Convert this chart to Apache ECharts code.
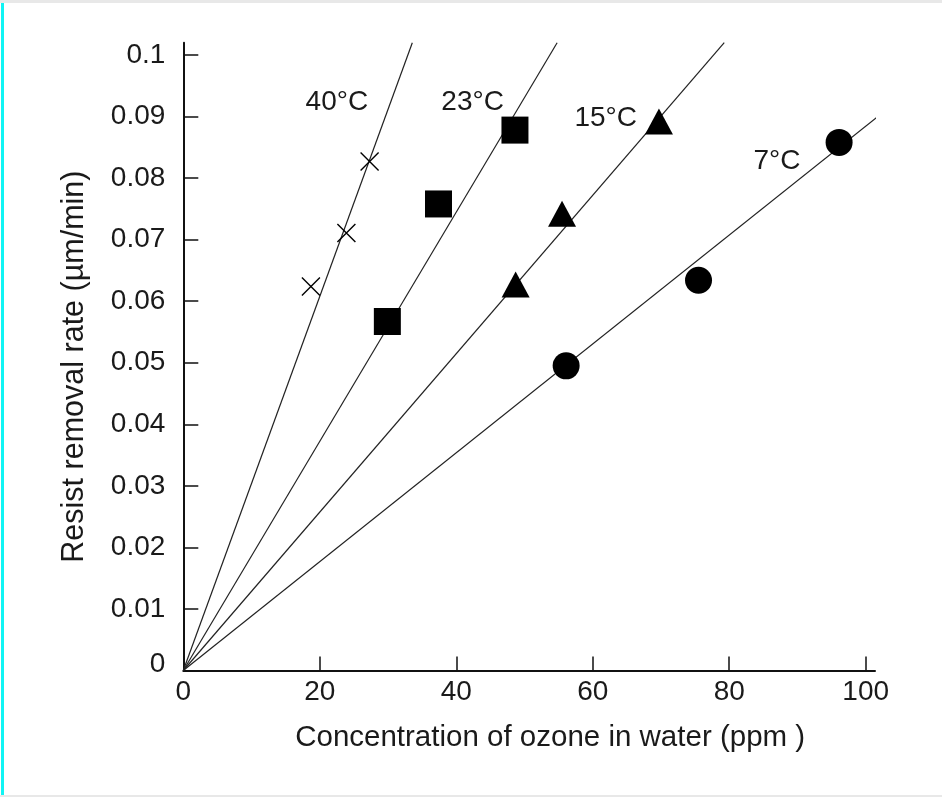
<!DOCTYPE html>
<html>
<head>
<meta charset="utf-8">
<script src="https://cdn.jsdelivr.net/npm/echarts@6/dist/echarts.min.js"></script>
<style>
html,body{margin:0;padding:0;background:#fff;}
#chart{width:942px;height:797px;}
</style>
</head>
<body>
<div id="chart"></div>
<script>
// ---- data ----
const xTicks = [0, 20, 40, 60, 80, 100];
const yTicks = [0, 0.01, 0.02, 0.03, 0.04, 0.05, 0.06, 0.07, 0.08, 0.09, 0.1];
const xMax = 101.36;
const yMax = 0.102;

const tempNames = ['40°C', '23°C', '15°C', '7°C'];

// measured points (ppm, µm/min)
const pts40 = [[18.7, 0.0624], [23.9, 0.0711], [27.3, 0.0827]];
const pts23 = [[29.9, 0.0567], [37.4, 0.0758], [48.6, 0.0878]];
const pts15 = [[48.7, 0.0627], [55.5, 0.0742], [69.7, 0.0892]];
const pts7  = [[56.1, 0.0495], [75.5, 0.0634], [96.1, 0.0858]];

// fitted lines through origin (end points read at top / right of plot)
const fit40 = [[0, 0], [33.56, 0.102]];
const fit23 = [[0, 0], [54.78, 0.102]];
const fit15 = [[0, 0], [79.27, 0.102]];
const fit7  = [[0, 0], [103.0, 0.0911]];

// temperature annotation anchor points (data coordinates)
const labelAnchors = [[22.5, 0.0924], [42.4, 0.0924], [61.9, 0.0897], [87.0, 0.0828]];

// ---- chart ----
const FONT = 'Liberation Sans, Arial, sans-serif';
const TXT = '#1a1a1a';
const chart = echarts.init(document.getElementById('chart'), null, {renderer: 'canvas'});

function fitSeries(name, data) {
  return {
    name: name + ' fit', type: 'line', data: data, symbol: 'none', clip: false,
    lineStyle: {color: '#222', width: 1.2}, silent: true, z: 2
  };
}
function ptSeries(name, data, symbol, size, stroke) {
  return {
    name: name, type: 'scatter', data: data, symbol: symbol, symbolSize: size,
    itemStyle: stroke ? {color: 'none', borderColor: '#000', borderWidth: 1.4, opacity: 1}
                      : {color: '#000', borderColor: '#000', borderWidth: 0, opacity: 1},
    z: 3, silent: true
  };
}

const option = {
  animation: false,
  backgroundColor: '#fff',
  grid: {left: 183.3, top: 42.7, right: 67, bottom: 126.5, containLabel: false},
  graphic: [
    {type: 'rect', shape: {x: 0, y: 0, width: 942, height: 3}, style: {fill: '#e8e8e8'}, silent: true},
    {type: 'rect', shape: {x: 0, y: 795, width: 942, height: 2}, style: {fill: '#e8e8e8'}, silent: true},
    {type: 'rect', shape: {x: 1, y: 3, width: 3, height: 792}, style: {fill: '#10f4f4'}, silent: true}
  ],
  xAxis: {
    type: 'value', min: 0, max: xMax,
    name: 'Concentration of ozone in water (ppm )',
    nameLocation: 'middle', nameGap: 52,
    nameTextStyle: {fontFamily: FONT, fontSize: 29.5, color: TXT, padding: [0, 0, 0, 42]},
    axisLine: {show: true, lineStyle: {color: '#111', width: 2}},
    axisTick: {show: true, inside: true, length: 14, customValues: xTicks, lineStyle: {color: '#111', width: 1.5}},
    axisLabel: {show: true, customValues: xTicks, margin: 8, fontFamily: FONT, fontSize: 28, color: TXT},
    splitLine: {show: false}
  },
  yAxis: {
    type: 'value', min: 0, max: yMax,
    name: 'Resist removal rate (µm/min)',
    nameLocation: 'middle', nameGap: 93, nameRotate: 90,
    nameTextStyle: {fontFamily: FONT, fontSize: 30.5, color: TXT, padding: [0, 20, 0, 0]},
    axisLine: {show: true, lineStyle: {color: '#111', width: 2}},
    axisTick: {show: true, inside: true, length: 15, customValues: yTicks, lineStyle: {color: '#111', width: 1.5}},
    axisLabel: {
      show: true, customValues: yTicks, margin: 18, fontFamily: FONT, fontSize: 28, color: TXT,
      formatter: function (v) { return v === 0 ? '{z|0}' : String(v); },
      rich: {z: {fontFamily: FONT, fontSize: 28, color: TXT, padding: [0, 0, 13, 0]}}
    },
    splitLine: {show: false}
  },
  series: [
    fitSeries(tempNames[0], fit40),
    fitSeries(tempNames[1], fit23),
    fitSeries(tempNames[2], fit15),
    fitSeries(tempNames[3], fit7),
    ptSeries(tempNames[0], pts40, 'path://M0,0L20,20M20,0L0,20', 18, true),
    ptSeries(tempNames[1], pts23, 'rect', 27, false),
    ptSeries(tempNames[2], pts15, 'triangle', [28, 26], false),
    ptSeries(tempNames[3], pts7, 'circle', 27, false),
    {
      name: 'labels', type: 'scatter', silent: true, z: 4,
      data: labelAnchors.map(function (p, i) { return {value: p, name: tempNames[i]}; }),
      symbolSize: 2, itemStyle: {color: 'rgba(255,255,255,0)', opacity: 1},
      label: {show: true, position: 'inside', formatter: '{b}', fontFamily: FONT, fontSize: 28, color: TXT}
    }
  ]
};
chart.setOption(option);
</script>
</body>
</html>
